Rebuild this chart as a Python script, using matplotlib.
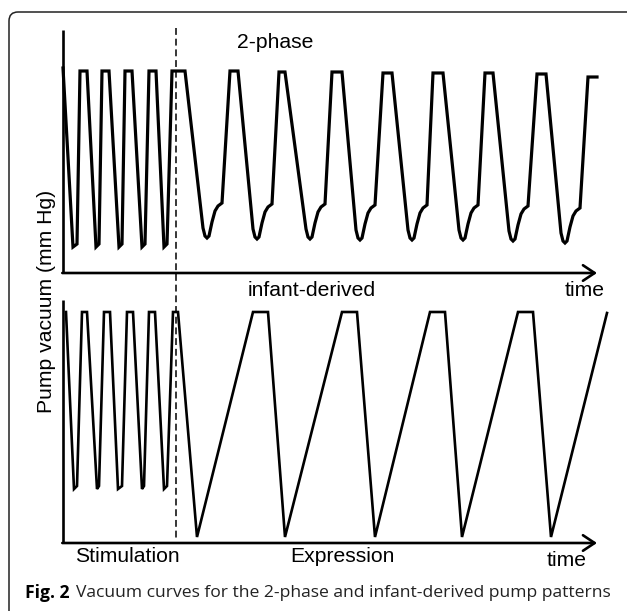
import matplotlib
matplotlib.use('Agg')
import matplotlib.pyplot as plt
import matplotlib.transforms as mtransforms
from matplotlib.lines import Line2D
from matplotlib.patches import FancyBboxPatch

# ---- data (time / vacuum in arbitrary schematic units) ----
# top panel: 2-phase pattern (stimulation then expression with shoulder)
two_phase_t = [
    0, 10, 14, 17, 24,
    33, 36, 39, 46,
    56, 59, 62, 69,
    79, 82, 86, 93,
    101, 104, 109, 122,
    140, 142, 144, 146, 149, 152, 155, 159, 167, 175,
    190, 192, 194, 196, 199, 202, 205, 209, 216, 222,
    243, 245, 247, 249, 252, 255, 258, 262, 269, 279,
    293, 295, 297, 299, 302, 305, 308, 312, 320, 329,
    345, 347, 349, 351, 354, 357, 360, 364, 370, 380,
    396, 398, 400, 402, 405, 408, 411, 415, 422, 430,
    446, 448, 450, 452, 455, 458, 461, 465, 474, 483,
    498, 500, 502, 504, 507, 510, 513, 517, 525, 534,
]
two_phase_v = [
    205, 26, 29, 202, 202,
    26, 29, 202, 202,
    26, 29, 202, 202,
    26, 29, 202, 202,
    26, 29, 202, 202,
    45, 37, 35, 37, 51, 62, 67, 70, 202, 202,
    44, 36, 34, 36, 50, 61, 66, 69, 201, 201,
    44, 36, 34, 36, 50, 61, 66, 69, 201, 201,
    43, 35, 33, 35, 49, 60, 65, 68, 200, 200,
    43, 35, 33, 35, 49, 60, 65, 68, 200, 200,
    43, 35, 33, 35, 49, 60, 65, 68, 200, 200,
    42, 34, 32, 34, 48, 59, 64, 67, 199, 199,
    40, 32, 30, 32, 46, 57, 62, 65, 196, 196,
]

# bottom panel: infant-derived pattern
infant_t = [
    3, 11, 14, 19, 24,
    34, 36, 41, 47,
    55, 59, 64, 70,
    79, 81, 86, 92,
    101, 104, 110, 115,
    134, 190, 205,
    222, 279, 294,
    312, 367, 382,
    399, 455, 470,
    488, 544,
]
infant_v = [
    231, 54, 57, 231, 231,
    54, 57, 231, 231,
    54, 57, 231, 231,
    54, 57, 231, 231,
    54, 57, 231, 231,
    6, 231, 231,
    6, 231, 231,
    6, 231, 231,
    6, 231, 231,
    6, 230,
]

phase_switch = 113   # stimulation -> expression
axis_top = 243
arrow_end = 534

W, H = 627, 611
fig = plt.figure(figsize=(W / 100, H / 100), dpi=100)
fig.patch.set_facecolor('white')

plt.rcParams['font.family'] = ['Liberation Sans', 'DejaVu Sans']


def px_axes(left, top, right, bottom):
    return [left / W, 1 - bottom / H, (right - left) / W, (bottom - top) / H]


ax_top = fig.add_axes(px_axes(63, 30, 615, 273))
ax_bot = fig.add_axes(px_axes(63, 300, 615, 543))

for ax, t, v, lw in [(ax_top, two_phase_t, two_phase_v, 2.3),
                     (ax_bot, infant_t, infant_v, 1.9)]:
    ax.set_xlim(0, 552)
    ax.set_ylim(0, axis_top)
    ax.axis('off')
    ax.plot(t, v, color='black', lw=lw, solid_joinstyle='miter', clip_on=False)
    ax.plot([0, 0], [0, axis_top], color='black', lw=1.9, clip_on=False,
            solid_capstyle='butt')
    ax.annotate('', xy=(arrow_end, 0), xytext=(-0.7, 0),
                arrowprops=dict(arrowstyle='->,head_length=0.42,head_width=0.28',
                                lw=1.9, color='black', shrinkA=0, shrinkB=0,
                                mutation_scale=20),
                annotation_clip=False)

# dashed separator between stimulation and expression
tr = mtransforms.blended_transform_factory(ax_top.transData, fig.transFigure)
fig.add_artist(Line2D([phase_switch, phase_switch], [1 - 28 / H, 1 - 541 / H],
                      transform=tr, color='black', lw=1.1,
                      linestyle=(0, (4.5, 2.5))))

# outer rounded frame
fig.add_artist(FancyBboxPatch((0.09, -1.0), 7.0, (H - 12) / 100 + 1.0,
                              boxstyle='round,pad=0,rounding_size=0.09',
                              transform=fig.dpi_scale_trans, fill=False,
                              edgecolor='#222222', lw=1.1))


def ftext(x, y, s, **kw):
    return fig.text(x / W, 1 - y / H, s, va='center', **kw)


fs = 15.2
ftext(237, 43, '2-phase', fontsize=fs)
ftext(248, 290, 'infant-derived', fontsize=fs)
ftext(565, 290, 'time', fontsize=fs)
ftext(75, 557, 'Stimulation', fontsize=fs)
ftext(290, 557, 'Expression', fontsize=fs)
ftext(547, 560, 'time', fontsize=fs)
ftext(47, 301, 'Pump vacuum (mm Hg)', fontsize=fs, rotation=90, ha='center')

# caption
cap_fs = 12.6
bold = ftext(25, 593, 'Fig. 2', fontsize=cap_fs, fontweight='bold',
             family=['Open Sans', 'DejaVu Sans'])
fig.canvas.draw()
bb = bold.get_window_extent()
fig.text(bb.x1 / W + 6 / W, 1 - 593 / H,
         'Vacuum curves for the 2-phase and infant-derived pump patterns',
         fontsize=cap_fs, va='center', family=['Open Sans', 'DejaVu Sans'],
         color='#222222')

fig.savefig('out.png', dpi=100)
